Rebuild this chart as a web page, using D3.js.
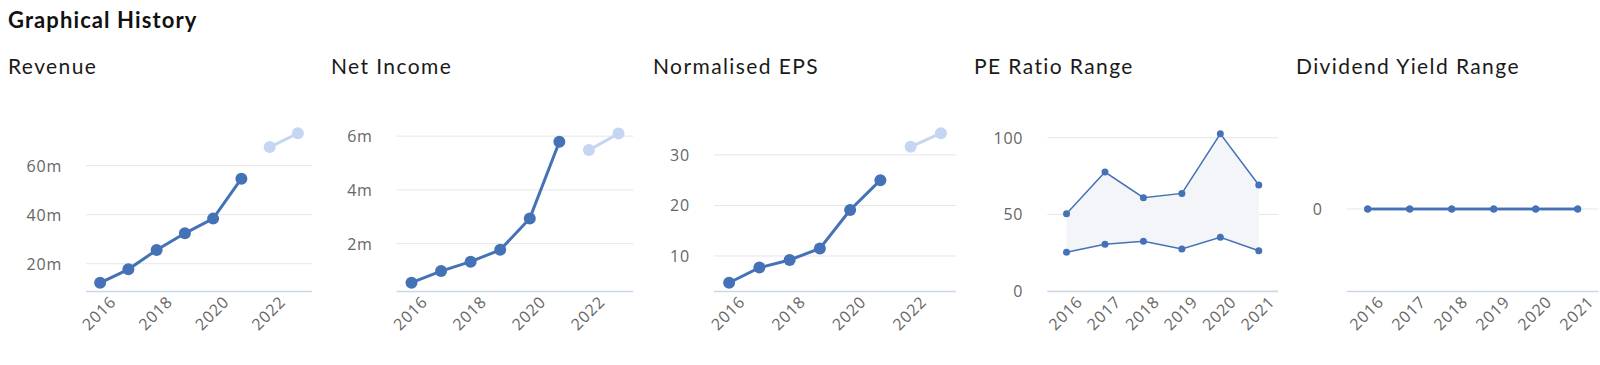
<!DOCTYPE html>
<html>
<head>
<meta charset="utf-8">
<script src="https://cdn.jsdelivr.net/npm/d3@7"></script>
<style>
  body { margin: 0; background: #fff; }
  svg text { font-family: Lato, "Open Sans", sans-serif; }
</style>
</head>
<body>
<div id="chart"></div>
<script>
// ---- data ----
var years8 = ["2016", "2017", "2018", "2019", "2020", "2021", "2022", "2023"];
var years6 = ["2016", "2017", "2018", "2019", "2020", "2021"];

var revenue = [12.2, 17.7, 25.6, 32.4, 38.4, 54.7];
var revenueFcst = [67.6, 73.2];
var netIncome = [0.55, 0.98, 1.33, 1.77, 2.94, 5.79];
var netIncomeFcst = [5.48, 6.10];
var eps = [4.7, 7.7, 9.2, 11.5, 19.1, 25.0];
var epsFcst = [31.6, 34.3];
var peHigh = [50.4, 77.6, 60.9, 63.7, 102.6, 69.2];
var peLow = [25.3, 30.5, 32.4, 27.4, 35.0, 26.3];
var divHigh = [0, 0, 0, 0, 0, 0];
var divLow = [0, 0, 0, 0, 0, 0];

var revTicks = [20, 40, 60];
var niTicks = [2, 4, 6];
var epsTicks = [10, 20, 30];
var peTicks = [0, 50, 100];
var divTicks = [0];

var W = 1600, H = 365;
var dark = "#4572b7", light = "#c5d6f2";

var svg = d3.select("#chart").append("svg")
    .attr("width", W)
    .attr("height", H);

svg.append("text")
    .attr("x", 8).attr("y", 28)
    .style("font-size", "22px")
    .style("font-weight", "bold")
    .style("letter-spacing", "1.1px")
    .style("fill", "#111")
    .text("Graphical History");

var plotTop = 120, plotBottom = 291;

// panel definitions (layout + axis ranges)
var panels = [
  { title: "Revenue", tx: 8, x0: 86, x1: 312, cats: years8, domain: [8.86, 78.65],
    ticks: revTicks, fmt: d => d + "m", kind: "line", a: revenue, b: revenueFcst, every: 2 },
  { title: "Net Income", tx: 331, x0: 396.7, x1: 633.3, cats: years8, domain: [0.24, 6.6],
    ticks: niTicks, fmt: d => d + "m", kind: "line", a: netIncome, b: netIncomeFcst, every: 2 },
  { title: "Normalised EPS", tx: 653, x0: 714, x1: 956, cats: years8, domain: [3.07, 36.9],
    ticks: epsTicks, fmt: d => d, kind: "line", a: eps, b: epsFcst, every: 2 },
  { title: "PE Ratio Range", tx: 974, x0: 1047.3, x1: 1278, cats: years6, domain: [0, 111.6],
    ticks: peTicks, fmt: d => d, kind: "range", a: peHigh, b: peLow, every: 1, lw: 1.5 },
  { title: "Dividend Yield Range", tx: 1296, x0: 1346.7, x1: 1598.7, cats: years6, domain: [-1, 1.085],
    ticks: divTicks, fmt: d => d, kind: "range", a: divHigh, b: divLow, every: 1, lw: 2.5 }
];

panels.forEach(function (p) {
  var g = svg.append("g");

  g.append("text")
      .attr("x", p.tx).attr("y", 74)
      .style("font-size", "21px")
      .style("letter-spacing", "1.4px")
      .style("fill", "#1a1a1a")
      .text(p.title);

  var x = d3.scaleBand().domain(p.cats).range([p.x0, p.x1]);
  var y = d3.scaleLinear().domain(p.domain).range([plotBottom, plotTop]);
  var cx = d => x(d) + x.bandwidth() / 2;

  // grid lines
  g.selectAll(".grid").data(p.ticks).enter().append("line")
      .attr("x1", p.x0).attr("x2", p.x1)
      .attr("y1", d => y(d)).attr("y2", d => y(d))
      .attr("stroke", "#e6e6e6").attr("stroke-width", 1);

  // y labels
  g.selectAll(".ylab").data(p.ticks).enter().append("text")
      .attr("x", p.x0 - 24).attr("y", d => y(d))
      .attr("text-anchor", "end")
      .attr("dominant-baseline", "central")
      .style("font-family", "'Open Sans', sans-serif")
      .style("font-size", "16px")
      .style("letter-spacing", "0.8px")
      .style("fill", "#666")
      .text(p.fmt);

  // x axis line
  g.append("line")
      .attr("x1", p.x0).attr("x2", p.x1)
      .attr("y1", plotBottom + 0.5).attr("y2", plotBottom + 0.5)
      .attr("stroke", "#ccd6eb").attr("stroke-width", 1.5);

  // x labels
  g.selectAll(".xlab").data(p.cats.filter((d, i) => i % p.every === 0)).enter().append("text")
      .attr("text-anchor", "end")
      .attr("transform", d => "translate(" + (cx(d) + 17) + "," + (plotBottom + 12) + ") rotate(-45)")
      .style("font-family", "'Open Sans', sans-serif")
      .style("font-size", "16px")
      .style("letter-spacing", "0.8px")
      .style("fill", "#666")
      .text(d => d);

  if (p.kind === "line") {
    var actual = p.a.map((v, i) => ({ c: p.cats[i], v: v }));
    var fcst = p.b.map((v, i) => ({ c: p.cats[p.a.length + i], v: v }));
    var line = d3.line().x(d => cx(d.c)).y(d => y(d.v));

    [[fcst, light], [actual, dark]].forEach(function (s) {
      g.append("path").datum(s[0])
          .attr("d", line)
          .attr("fill", "none")
          .attr("stroke", s[1])
          .attr("stroke-width", 3);
      g.selectAll(null).data(s[0]).enter().append("circle")
          .attr("cx", d => cx(d.c)).attr("cy", d => y(d.v))
          .attr("r", 6)
          .attr("fill", s[1]);
    });
  } else {
    var rows = p.cats.map((c, i) => ({ c: c, hi: p.a[i], lo: p.b[i] }));
    g.append("path").datum(rows)
        .attr("d", d3.area().x(d => cx(d.c)).y0(d => y(d.lo)).y1(d => y(d.hi)))
        .attr("fill", "#f3f5f9");
    ["hi", "lo"].forEach(function (k) {
      g.append("path").datum(rows)
          .attr("d", d3.line().x(d => cx(d.c)).y(d => y(d[k])))
          .attr("fill", "none")
          .attr("stroke", dark)
          .attr("stroke-width", p.lw);
      g.selectAll(null).data(rows).enter().append("circle")
          .attr("cx", d => cx(d.c)).attr("cy", d => y(d[k]))
          .attr("r", 3.5)
          .attr("fill", dark);
    });
  }
});
</script>
</body>
</html>
